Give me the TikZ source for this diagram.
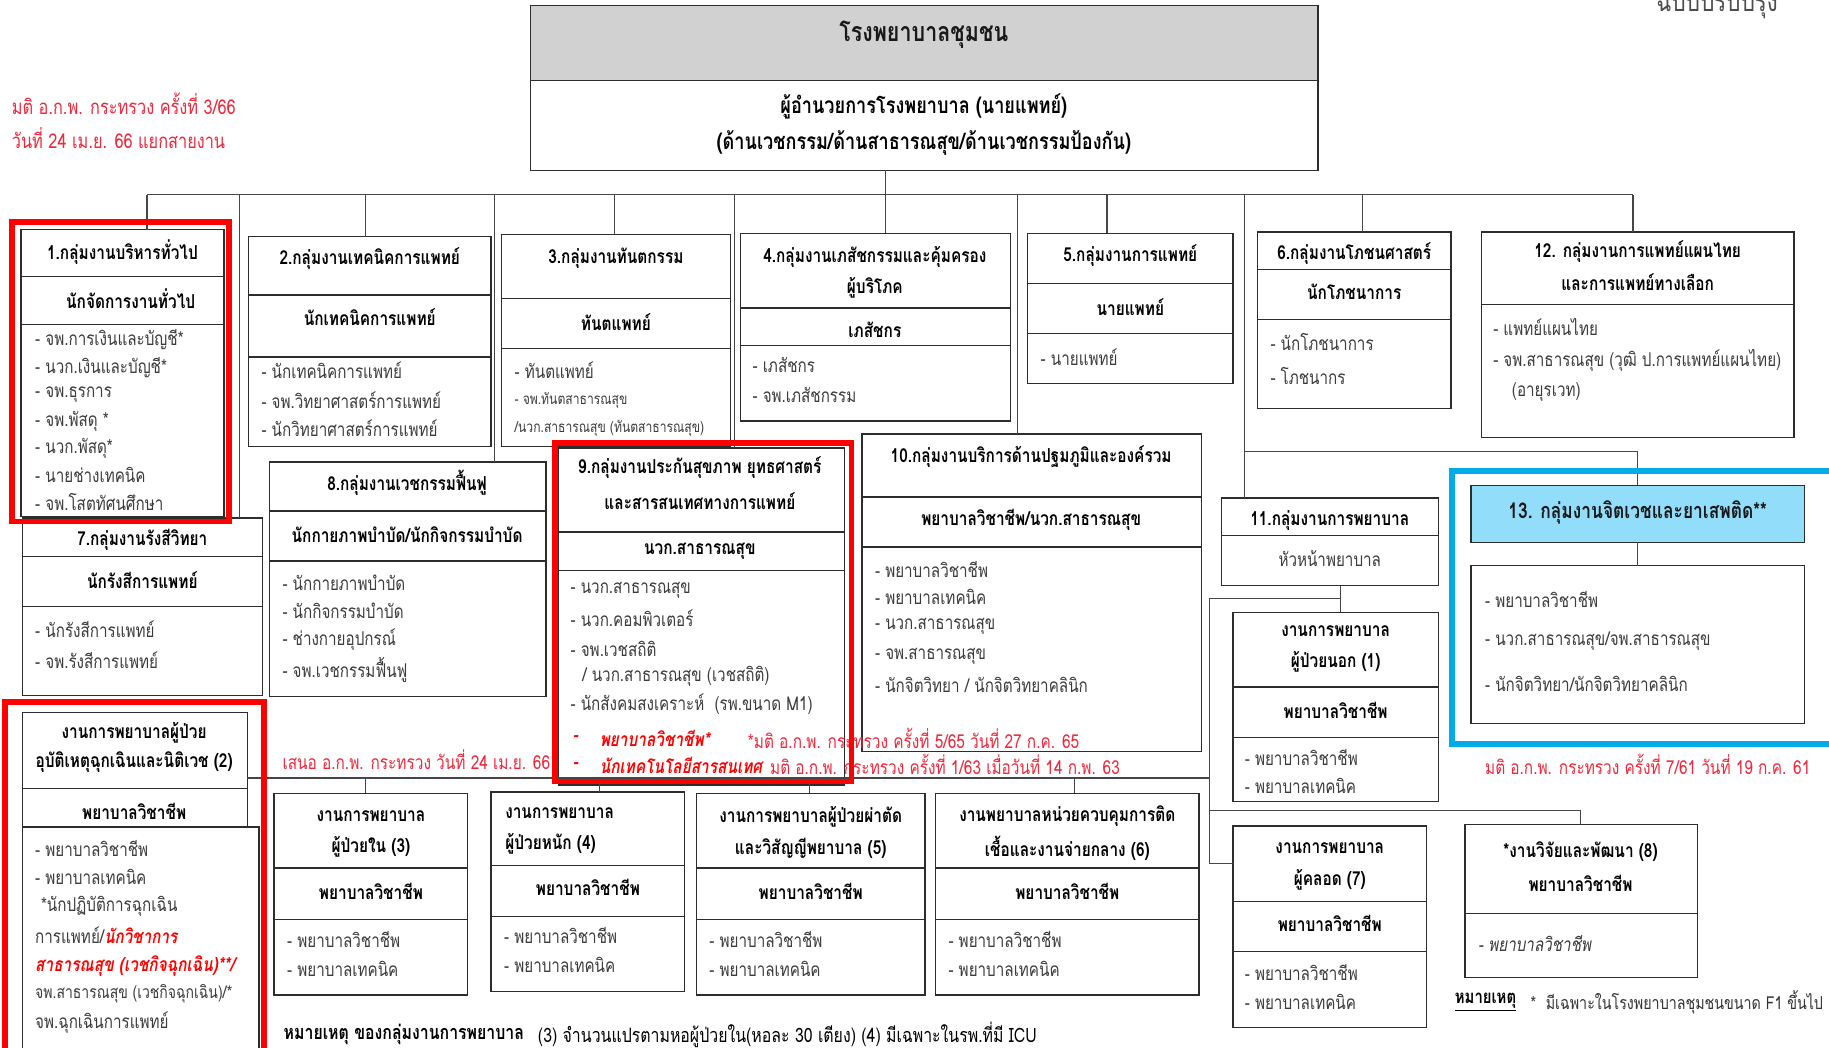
\documentclass[tikz,border=0pt]{standalone}
\usepackage{fontspec}
\setmainfont{Loma}[Script=Thai,FakeStretch=0.8]
\definecolor{hdrgray}{RGB}{209,209,209}
\definecolor{cyanfill}{RGB}{146,222,250}
\definecolor{bluefr}{RGB}{0,170,235}
\definecolor{notered}{RGB}{240,40,60}
\definecolor{lc}{RGB}{45,45,45}
\definecolor{cc}{RGB}{70,70,70}
\definecolor{gtxt}{RGB}{60,60,60}
\newcommand{\sect}[6][]{\node[sec,#1,anchor=north west,minimum width={(#5-#3)*1pt},minimum height={(#6-#4)*1pt}] (#2) at (#3,#4) {};}
\begin{document}
\begin{tikzpicture}[x=1pt,y=-1pt,
  sec/.style={draw=lc,line width=1.1pt,inner sep=0pt,outer sep=0pt},
  con/.style={draw=cc,line width=1pt},
  hd/.style={font=\fontsize{16.5}{18}\selectfont\bfseries,text=black,inner sep=0pt},
  li/.style={font=\fontsize{16.3}{18}\selectfont,text=gtxt,anchor=west,inner sep=0pt},
  lis/.style={font=\fontsize{13}{15}\selectfont,text=gtxt,anchor=west,inner sep=0pt},
  rn/.style={font=\fontsize{16.5}{18}\selectfont,text=notered,anchor=west,inner sep=0pt},
  rbi/.style={font=\fontsize{16.5}{18}\selectfont\bfseries\itshape,text=red,anchor=west,inner sep=0pt},
  redfr/.style={draw=red,line width=5pt},
  bluef/.style={draw=bluefr,line width=5pt}]
\useasboundingbox (0,0) rectangle (1568,898);
\fill[white] (0,0) rectangle (1568,898);

% ---------- top ----------
\sect[fill=hdrgray]{toph}{455}{5}{1130}{69}
\sect{topd}{455}{69}{1130}{146}
\node[font=\fontsize{23}{26}\selectfont\bfseries,text=black!90,inner sep=0pt] (tt) at (792,30) {โรงพยาบาลชุมชน};
\node[font=\fontsize{19.4}{22}\selectfont\bfseries,inner sep=0pt] (td1) at (792,91) {ผู้อำนวยการโรงพยาบาล (นายแพทย์)};
\node[font=\fontsize{19.4}{22}\selectfont\bfseries,inner sep=0pt] (td2) at (792,123) {(ด้านเวชกรรม/ด้านสาธารณสุข/ด้านเวชกรรมป้องกัน)};
\node[font=\fontsize{24}{26}\selectfont,text=black!70,inner sep=0pt] (rev) at (1472,3) {ฉบับปรับปรุง};
\node[rn,font=\fontsize{17.5}{20}\selectfont] (n366a) at (10,89) {มติ อ.ก.พ. กระทรวง ครั้งที่ 3/66};
\node[rn,font=\fontsize{17.5}{20}\selectfont] (n366b) at (10,118) {วันที่ 24 เม.ย. 66 แยกสายงาน};

% ---------- box 1 ----------
\sect{b1h}{18}{197}{192}{237}
\sect{b1s}{18}{237}{192}{278}
\sect{b1l}{18}{278}{192}{443}
\node[hd] (t1a) at (105,216) {1.กลุ่มงานบริหารทั่วไป};
\node[hd] (t1b) at (112,256) {นักจัดการงานทั่วไป};
\node[li] (l1a) at (30,291) {- จพ.การเงินและบัญชี*};
\node[li] (l1b) at (30,315) {- นวก.เงินและบัญชี*};
\node[li] (l1c) at (30,338) {- จพ.ธุรการ};
\node[li] (l1d) at (30,361) {- จพ.พัสดุ *};
\node[li] (l1e) at (30,384) {- นวก.พัสดุ*};
\node[li] (l1f) at (30,407) {- นายช่างเทคนิค};
\node[li] (l1g) at (30,430) {- จพ.โสตทัศนศึกษา};

% ---------- box 2 ----------
\sect{b2h}{213}{203}{421}{253}
\sect{b2s}{213}{253}{421}{306}
\sect{b2l}{213}{306}{421}{383}
\node[hd] (t2a) at (317,222) {2.กลุ่มงานเทคนิคการแพทย์};
\node[hd] (t2b) at (317,272) {นักเทคนิคการแพทย์};
\node[li] (l2a) at (224,317) {- นักเทคนิคการแพทย์};
\node[li] (l2b) at (224,343) {- จพ.วิทยาศาสตร์การแพทย์};
\node[li] (l2c) at (224,367) {- นักวิทยาศาสตร์การแพทย์};

% ---------- box 3 ----------
\sect{b3h}{430}{201}{626}{256}
\sect{b3s}{430}{256}{626}{299}
\sect{b3l}{430}{299}{626}{383}
\node[hd] (t3a) at (528,221) {3.กลุ่มงานทันตกรรม};
\node[hd] (t3b) at (528,276) {ทันตแพทย์};
\node[li] (l3a) at (441,317) {- ทันตแพทย์};
\node[lis] (l3b) at (441,343) {- จพ.ทันตสาธารณสุข};
\node[lis] (l3c) at (441,367) {/นวก.สาธารณสุข (ทันตสาธารณสุข)};

% ---------- box 4 ----------
\sect{b4h}{635}{200}{866}{264}
\sect{b4s}{635}{264}{866}{296}
\sect{b4l}{635}{296}{866}{361}
\node[hd] (t4a) at (750,220) {4.กลุ่มงานเภสัชกรรมและคุ้มครอง};
\node[hd] (t4b) at (750,247) {ผู้บริโภค};
\node[hd] (t4c) at (750,283) {เภสัชกร};
\node[li] (l4a) at (645,313) {- เภสัชกร};
\node[li] (l4b) at (645,339) {- จพ.เภสัชกรรม};

% ---------- box 5 ----------
\sect{b5h}{881}{200}{1057}{243}
\sect{b5s}{881}{243}{1057}{286}
\sect{b5l}{881}{286}{1057}{329}
\node[hd] (t5a) at (969,219) {5.กลุ่มงานการแพทย์};
\node[hd] (t5b) at (969,263) {นายแพทย์};
\node[li] (l5a) at (892,306) {- นายแพทย์};

% ---------- box 6 ----------
\sect{b6h}{1078}{199}{1244}{231}
\sect{b6s}{1078}{231}{1244}{274}
\sect{b6l}{1078}{274}{1244}{350}
\node[hd] (t6a) at (1161,217) {6.กลุ่มงานโภชนศาสตร์};
\node[hd] (t6b) at (1161,250) {นักโภชนาการ};
\node[li] (l6a) at (1089,293) {- นักโภชนาการ};
\node[li] (l6b) at (1089,322) {- โภชนากร};

% ---------- box 12 ----------
\sect{b12h}{1270}{199}{1538}{261}
\sect{b12l}{1270}{261}{1538}{375}
\node[hd] (t12a) at (1404,216) {12. กลุ่มงานการแพทย์แผนไทย};
\node[hd] (t12b) at (1404,242) {และการแพทย์ทางเลือก};
\node[li] (l12a) at (1280,280) {- แพทย์แผนไทย};
\node[li] (l12b) at (1280,309) {- จพ.สาธารณสุข (วุฒิ ป.การแพทย์แผนไทย)};
\node[li] (l12c) at (1296,336) {(อายุรเวท)};

% ---------- box 7 ----------
\sect{b7h}{19}{444}{225}{477}
\sect{b7s}{19}{477}{225}{520}
\sect{b7l}{19}{520}{225}{596}
\node[hd] (t7a) at (122,463) {7.กลุ่มงานรังสีวิทยา};
\node[hd] (t7b) at (122,497) {นักรังสีการแพทย์};
\node[li] (l7a) at (30,539) {- นักรังสีการแพทย์};
\node[li] (l7b) at (30,566) {- จพ.รังสีการแพทย์};

% ---------- box 8 ----------
\sect{b8h}{231}{396}{468}{438}
\sect{b8s}{231}{438}{468}{481}
\sect{b8l}{231}{481}{468}{597}
\node[hd] (t8a) at (349,414) {8.กลุ่มงานเวชกรรมฟื้นฟู};
\node[hd] (t8b) at (349,458) {นักกายภาพบำบัด/นักกิจกรรมบำบัด};
\node[li] (l8a) at (242,500) {- นักกายภาพบำบัด};
\node[li] (l8b) at (242,524) {- นักกิจกรรมบำบัด};
\node[li] (l8c) at (242,548) {- ช่างกายอุปกรณ์};
\node[li] (l8d) at (242,574) {- จพ.เวชกรรมฟื้นฟู};

% ---------- box 9 ----------
\sect{b9h}{479}{384}{724}{456}
\sect{b9s}{479}{456}{724}{489}
\sect{b9l}{479}{489}{724}{673}
\node[hd] (t9a) at (600,401) {9.กลุ่มงานประกันสุขภาพ ยุทธศาสตร์};
\node[hd] (t9b) at (600,430) {และสารสนเทศทางการแพทย์};
\node[hd] (t9c) at (600,473) {นวก.สาธารณสุข};
\node[li] (l9a) at (489,506) {- นวก.สาธารณสุข};
\node[li] (l9b) at (489,530) {- นวก.คอมพิวเตอร์};
\node[li] (l9c) at (489,556) {- จพ.เวชสถิติ};
\node[li] (l9d) at (499,580) {/ นวก.สาธารณสุข (เวชสถิติ)};
\node[li] (l9e) at (489,604) {- นักสังคมสงเคราะห์ \ (รพ.ขนาด M1)};
\node[rbi] (l9f0) at (491,633) {-};
\node[rbi] (l9f) at (514,633) {พยาบาลวิชาชีพ*};
\node[rbi] (l9g0) at (491,656) {-};
\node[rbi] (l9g) at (514,656) {นักเทคโนโลยีสารสนเทศ};

% ---------- box 10 ----------
\sect{b10h}{739}{372}{1030}{426}
\sect{b10s}{739}{426}{1030}{469}
\sect{b10l}{739}{469}{1030}{644}
\node[hd] (t10a) at (884,391) {10.กลุ่มงานบริการด้านปฐมภูมิและองค์รวม};
\node[hd] (t10b) at (884,446) {พยาบาลวิชาชีพ/นวก.สาธารณสุข};
\node[li] (l10a) at (750,488) {- พยาบาลวิชาชีพ};
\node[li] (l10b) at (750,512) {- พยาบาลเทคนิค};
\node[li] (l10c) at (750,537) {- นวก.สาธารณสุข};
\node[li] (l10d) at (750,563) {- จพ.สาธารณสุข};
\node[li] (l10e) at (750,587) {- นักจิตวิทยา / นักจิตวิทยาคลินิก};

\node[rn] (n565) at (641,633) {*มติ อ.ก.พ. กระทรวง ครั้งที่ 5/65 วันที่ 27 ก.ค. 65};
\node[rn] (n163) at (660,655) {มติ อ.ก.พ. กระทรวง ครั้งที่ 1/63 เมื่อวันที่ 14 ก.พ. 63};

% ---------- box 11 ----------
\sect{b11h}{1047}{427}{1233}{459}
\sect{b11s}{1047}{459}{1233}{502}
\node[hd] (t11a) at (1140,446) {11.กลุ่มงานการพยาบาล};
\node[font=\fontsize{16.3}{18}\selectfont,text=gtxt,inner sep=0pt] (t11b) at (1140,479) {หัวหน้าพยาบาล};

% ---------- OPD (1) ----------
\sect{n1h}{1057}{525}{1233}{589}
\sect{n1s}{1057}{589}{1233}{632}
\sect{n1l}{1057}{632}{1233}{687}
\node[hd] (tn1a) at (1145,541) {งานการพยาบาล};
\node[hd] (tn1b) at (1145,567) {ผู้ป่วยนอก (1)};
\node[hd] (tn1c) at (1145,609) {พยาบาลวิชาชีพ};
\node[li] (ln1a) at (1067,649) {- พยาบาลวิชาชีพ};
\node[li] (ln1b) at (1067,674) {- พยาบาลเทคนิค};

% ---------- box 13 ----------
\sect[fill=cyanfill]{b13h}{1261}{416}{1547}{465}
\sect{b13l}{1261}{485}{1547}{620}
\node[font=\fontsize{18.6}{21}\selectfont\bfseries,text=black!90,inner sep=0pt] (t13a) at (1404,439) {13. กลุ่มงานจิตเวชและยาเสพติด**};
\node[li] (l13a) at (1273,514) {- พยาบาลวิชาชีพ};
\node[li] (l13b) at (1273,550) {- นวก.สาธารณสุข/จพ.สาธารณสุข};
\node[li] (l13c) at (1273,586) {- นักจิตวิทยา/นักจิตวิทยาคลินิก};
\node[rn] (n761) at (1273,655) {มติ อ.ก.พ. กระทรวง ครั้งที่ 7/61 วันที่ 19 ก.ค. 61};

% ---------- ER (2) ----------
\sect{n2h}{19}{611}{212}{676}
\sect{n2s}{19}{676}{212}{709}
\sect{n2l}{19}{709}{222}{920}
\node[hd] (tn2a) at (115,628) {งานการพยาบาลผู้ป่วย};
\node[hd] (tn2b) at (115,653) {อุบัติเหตุฉุกเฉินและนิติเวช (2)};
\node[hd] (tn2c) at (115,696) {พยาบาลวิชาชีพ};
\node[li] (ln2a) at (30,727) {- พยาบาลวิชาชีพ};
\node[li] (ln2b) at (30,752) {- พยาบาลเทคนิค};
\node[li] (ln2c) at (35,777) {*นักปฏิบัติการฉุกเฉิน};
\node[li] (ln2d) at (30,802) {การแพทย์/{\color{red}\bfseries\itshape นักวิชาการ}};
\node[rbi] (ln2e) at (30,828) {สาธารณสุข (เวชกิจฉุกเฉิน)**/};
\node[li,font=\fontsize{15}{17}\selectfont] (ln2f) at (30,852) {จพ.สาธารณสุข (เวชกิจฉุกเฉิน)/*};
\node[li] (ln2g) at (30,877) {จพ.ฉุกเฉินการแพทย์};
\node[rn] (n2466) at (242,651) {เสนอ อ.ก.พ. กระทรวง วันที่ 24 เม.ย. 66};

% ---------- nursing (3)-(6) ----------
\sect{n3h}{235}{680}{401}{744}
\sect{n3s}{235}{744}{401}{788}
\sect{n3l}{235}{788}{401}{853}
\node[hd] (tn3a) at (318,700) {งานการพยาบาล};
\node[hd] (tn3b) at (318,726) {ผู้ป่วยใน (3)};
\node[hd] (tn3c) at (318,764) {พยาบาลวิชาชีพ};
\node[li] (ln3a) at (246,805) {- พยาบาลวิชาชีพ};
\node[li] (ln3b) at (246,831) {- พยาบาลเทคนิค};

\sect{n4h}{421}{679}{587}{742}
\sect{n4s}{421}{742}{587}{786}
\sect{n4l}{421}{786}{587}{850}
\node[hd,anchor=west] (tn4a) at (433,697) {งานการพยาบาล};
\node[hd,anchor=west] (tn4b) at (433,723) {ผู้ป่วยหนัก (4)};
\node[hd] (tn4c) at (504,761) {พยาบาลวิชาชีพ};
\node[li] (ln4a) at (432,802) {- พยาบาลวิชาชีพ};
\node[li] (ln4b) at (432,827) {- พยาบาลเทคนิค};

\sect{n5h}{597}{680}{793}{744}
\sect{n5s}{597}{744}{793}{788}
\sect{n5l}{597}{788}{793}{853}
\node[hd] (tn5a) at (695,700) {งานการพยาบาลผู้ป่วยผ่าตัด};
\node[hd] (tn5b) at (695,727) {และวิสัญญีพยาบาล (5)};
\node[hd] (tn5c) at (695,764) {พยาบาลวิชาชีพ};
\node[li] (ln5a) at (608,805) {- พยาบาลวิชาชีพ};
\node[li] (ln5b) at (608,831) {- พยาบาลเทคนิค};

\sect{n6h}{802}{680}{1028}{744}
\sect{n6s}{802}{744}{1028}{788}
\sect{n6l}{802}{788}{1028}{853}
\node[hd] (tn6a) at (915,700) {งานพยาบาลหน่วยควบคุมการติด};
\node[hd] (tn6b) at (915,727) {เชื้อและงานจ่ายกลาง (6)};
\node[hd] (tn6c) at (915,764) {พยาบาลวิชาชีพ};
\node[li] (ln6a) at (813,805) {- พยาบาลวิชาชีพ};
\node[li] (ln6b) at (813,831) {- พยาบาลเทคนิค};

% ---------- nursing (7),(8) ----------
\sect{n7h}{1057}{708}{1223}{773}
\sect{n7s}{1057}{773}{1223}{816}
\sect{n7l}{1057}{816}{1223}{881}
\node[hd] (tn7a) at (1140,727) {งานการพยาบาล};
\node[hd] (tn7b) at (1140,754) {ผู้คลอด (7)};
\node[hd] (tn7c) at (1140,792) {พยาบาลวิชาชีพ};
\node[li] (ln7a) at (1067,834) {- พยาบาลวิชาชีพ};
\node[li] (ln7b) at (1067,859) {- พยาบาลเทคนิค};

\sect{n8h}{1256}{707}{1455}{783}
\sect{n8l}{1256}{783}{1455}{838}
\node[hd] (tn8a) at (1355,730) {*งานวิจัยและพัฒนา (8)};
\node[hd] (tn8b) at (1355,757) {พยาบาลวิชาชีพ};
\node[li,font=\fontsize{16.3}{18}\selectfont\itshape] (ln8a) at (1267,809) {- พยาบาลวิชาชีพ};

% ---------- footnotes ----------
\node[font=\fontsize{16}{18}\selectfont\bfseries,anchor=west,inner sep=0pt] (fr1) at (1247,859) {\underline{หมายเหตุ}};
\node[li,text=black!80,font=\fontsize{15.3}{17}\selectfont] (fr2) at (1312,859) {* \ มีเฉพาะในโรงพยาบาลชุมชนขนาด F1 ขึ้นไป};
\node[font=\fontsize{17}{19}\selectfont\bfseries,anchor=west,inner sep=0pt] (fb1) at (243,887) {หมายเหตุ ของกลุ่มงานการพยาบาล};
\node[font=\fontsize{17}{19}\selectfont,anchor=west,inner sep=0pt] (fb2) at (461,887) {(3) จำนวนแปรตามหอผู้ป่วยใน(หอละ 30 เตียง) (4) มีเฉพาะในรพ.ที่มี ICU};

% ---------- connectors ----------
\coordinate (bL) at (126,167);
\coordinate (bR) at (1400,167);
\coordinate (d7) at (205,167);
\coordinate (d2) at (313,167);
\coordinate (d8) at (424,167);
\coordinate (d3) at (527,167);
\coordinate (d9) at (630,167);
\coordinate (d4) at (759,167);
\coordinate (d10) at (872,167);
\coordinate (d5) at (949,167);
\coordinate (d11) at (1067,167);
\coordinate (d6) at (1168,167);
\draw[con] (bL) -- (bR);
\draw[con] (topd.south -| d4) -- (d4 |- b4h.north);
\draw[con] (bL) -- (bL |- b1h.north);
\draw[con] (d7) -- (d7 |- b7h.north);
\draw[con] (d2) -- (d2 |- b2h.north);
\draw[con] (d8) -- (d8 |- b8h.north);
\draw[con] (d3) -- (d3 |- b3h.north);
\draw[con] (d9) -- (d9 |- b9h.north);
\draw[con] (d10) -- (d10 |- b10h.north);
\draw[con] (d5) -- (d5 |- b5h.north);
\draw[con] (d11) -- (d11 |- b11h.north);
\draw[con] (d6) -- (d6 |- b6h.north);
\draw[con] (bR) -- (bR |- b12h.north);
\coordinate (c13) at (1404,387);
\draw[con] (d11 |- c13) -- (c13) -- (c13 |- b13h.north);
\draw[con] (b13h.south) -- (b13l.north);
% nursing
\coordinate (k1) at (1149,513);
\coordinate (k2) at (1037,513);
\coordinate (nbL) at (212,667);
\coordinate (nbR) at (1037,667);
\coordinate (k8) at (1355,695);
\draw[con] (k1 |- b11s.south) -- (k1 |- n1h.north);
\draw[con] (k1) -- (k2) |- (n7h.west);
\draw[con] (nbL) -- (nbR);
\draw[con] (k2 |- k8) -- (k8) -- (k8 |- n8h.north);
\coordinate (e3) at (313,667);
\coordinate (e4) at (514,667);
\coordinate (e5) at (694,667);
\coordinate (e6) at (921,667);
\draw[con] (e3) -- (e3 |- n3h.north);
\draw[con] (e4) -- (e4 |- n4h.north);
\draw[con] (e5) -- (e5 |- n5h.north);
\draw[con] (e6) -- (e6 |- n6h.north);

% ---------- highlight frames ----------
\draw[redfr] (10,190) rectangle (196,447);
\draw[redfr] (476,380) rectangle (730,670);
\draw[redfr] (4,602) rectangle (226,910);
\draw[bluef] (1245,404) rectangle (1580,638);
\end{tikzpicture}
\end{document}
